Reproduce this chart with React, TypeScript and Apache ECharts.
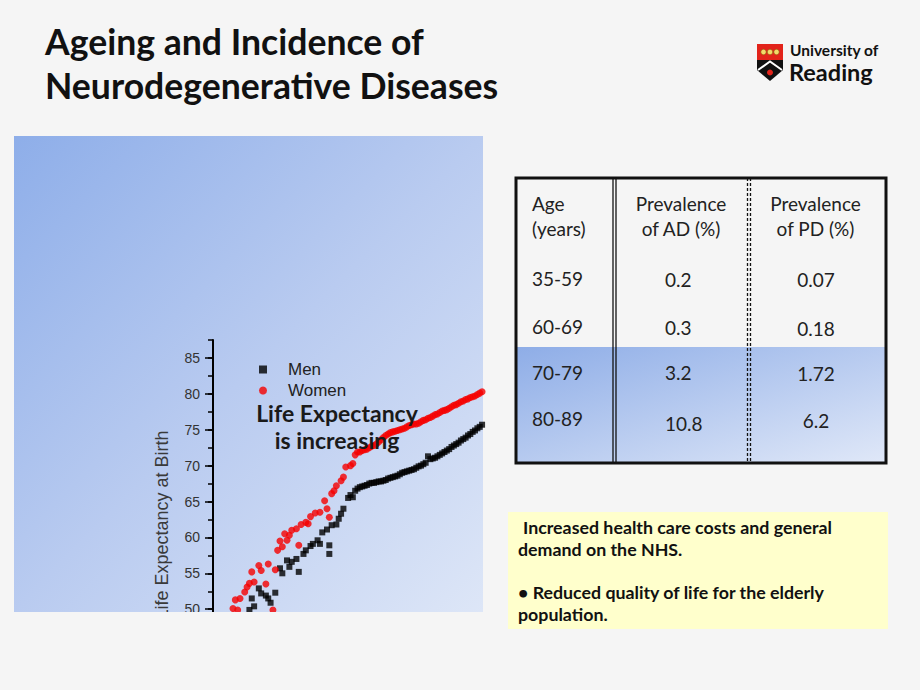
import React, { useEffect, useRef } from "react";
import * as echarts from "echarts";

// ---------- DATA ----------
const titleLines = ["Ageing and Incidence of", "Neurodegenerative Diseases"];
const yLabelValues = [40, 45, 50, 55, 60, 65, 70, 75, 80, 85];

// Life expectancy at birth, [year, years]
const menData: [number, number][] = [
  [1907, 49.9], [1908, 51.5], [1909, 50.4], [1911, 52.9], [1912, 52.2], [1914, 51.9], [1915, 51.5],
  [1916, 50.9], [1918, 52.3], [1920, 55.7], [1921, 55.0], [1923, 56.8], [1924, 55.9], [1925, 56.6],
  [1927, 57.0], [1928, 55.2], [1930, 57.7], [1931, 58.2], [1933, 58.8], [1934, 59.1], [1936, 59.6],
  [1937, 59.1], [1938, 60.7], [1940, 61.1], [1941, 57.7], [1941, 58.9], [1942, 61.7], [1944, 61.8],
  [1945, 62.6], [1946, 63.3], [1947, 64.0], [1949, 65.5], [1950, 65.9], [1951, 65.6], [1952, 66.5],
  [1953, 66.8], [1954, 67.0], [1955, 67.1], [1956, 67.2], [1957, 67.3], [1958, 67.5], [1959, 67.6],
  [1960, 67.6], [1961, 67.7], [1962, 67.8], [1963, 67.8], [1964, 67.9], [1965, 68.0], [1966, 68.2],
  [1967, 68.3], [1968, 68.4], [1969, 68.5], [1970, 68.6], [1971, 68.8], [1972, 69.0], [1973, 69.1],
  [1974, 69.2], [1975, 69.3], [1976, 69.4], [1977, 69.5], [1978, 69.7], [1979, 69.9], [1980, 70.0],
  [1981, 70.2], [1982, 70.4], [1983, 71.3], [1984, 70.9], [1985, 71.0], [1986, 71.1], [1987, 71.3],
  [1988, 71.5], [1989, 71.7], [1990, 71.9], [1991, 72.1], [1992, 72.3], [1993, 72.6], [1994, 72.8],
  [1995, 73.0], [1996, 73.2], [1997, 73.5], [1998, 73.7], [1999, 73.9], [2000, 74.2], [2001, 74.4],
  [2002, 74.7], [2003, 74.9], [2004, 75.2], [2005, 75.4], [2006, 75.7],
];

const womenData: [number, number][] = [
  [1900, 50.1], [1901, 51.3], [1902, 49.9], [1903, 51.5], [1905, 52.4], [1906, 53.1], [1907, 53.6],
  [1908, 55.2], [1909, 53.8], [1911, 56.1], [1912, 55.4], [1914, 53.5], [1915, 56.3], [1917, 49.9],
  [1918, 55.5], [1919, 58.2], [1920, 59.5], [1921, 58.7], [1922, 60.5], [1923, 59.6], [1924, 60.3],
  [1925, 61.0], [1927, 61.2], [1928, 58.9], [1929, 61.8], [1931, 62.1], [1932, 61.9], [1933, 62.9],
  [1935, 63.4], [1937, 63.5], [1939, 65.1], [1940, 64.0], [1941, 62.8], [1942, 66.1], [1943, 66.5],
  [1944, 67.2], [1946, 67.9], [1947, 68.4], [1948, 69.8], [1950, 70.0], [1951, 70.3], [1952, 71.5],
  [1953, 71.9], [1954, 71.9], [1955, 72.1], [1956, 72.2], [1957, 72.3], [1958, 72.5], [1959, 72.7],
  [1960, 72.8], [1961, 73.0], [1962, 73.3], [1963, 73.6], [1964, 73.9], [1965, 74.2], [1966, 74.4],
  [1967, 74.6], [1968, 74.7], [1969, 74.8], [1970, 74.9], [1971, 75.0], [1972, 75.1], [1973, 75.2],
  [1974, 75.4], [1975, 75.6], [1976, 75.7], [1977, 75.8], [1978, 75.8], [1979, 75.9], [1980, 76.1],
  [1981, 76.3], [1982, 76.4], [1983, 76.6], [1984, 76.7], [1985, 76.9], [1986, 77.1], [1987, 77.2],
  [1988, 77.4], [1989, 77.6], [1990, 77.7], [1991, 77.8], [1992, 78.0], [1993, 78.2], [1994, 78.4],
  [1995, 78.5], [1996, 78.7], [1997, 78.9], [1998, 79.0], [1999, 79.2], [2000, 79.3], [2001, 79.5],
  [2002, 79.6], [2003, 79.7], [2004, 79.9], [2005, 80.1], [2006, 80.3],
];

const tableHeaders = [["Age", "(years)"], ["Prevalence", "of AD (%)"], ["Prevalence", "of PD (%)"]];
const ageGroups = ["35-59", "60-69", "70-79", "80-89"];
const prevalenceAD = [0.2, 0.3, 3.2, 10.8];
const prevalencePD = [0.07, 0.18, 1.72, 6.2];

const overlayLines = ["Life Expectancy", "is increasing"];
const noteLines = [
  "Increased health care costs and general",
  "demand on the NHS.",
  "\u2022 Reduced quality of life for the elderly",
  "population.",
];
const logoLines = ["University of", "Reading"];

// ---------- STYLE / LAYOUT ----------
const PAGE_BG = "#f5f5f5";
const chartFont = '"Liberation Sans", Arial, sans-serif';
const slideFont = 'Lato, "Open Sans", sans-serif';

const txt = (
  text: string, x: number, y: number, size: number, weight: string,
  align: string = "left", fill: string = "#111", z: number = 60
) => ({
  type: "text", x, y, z, silent: true,
  style: {
    text, fill, fontSize: size, fontWeight: weight, fontFamily: slideFont,
    lineHeight: Math.round(size * 0.95),
    textAlign: align, textVerticalAlign: "middle",
  },
});

function buildOption() {
  const g: any[] = [];

  // chart background panel
  g.push({
    type: "rect", z: -1, silent: true,
    shape: { x: 14, y: 136, width: 469, height: 476 },
    style: {
      fill: new echarts.graphic.LinearGradient(0, 0, 1, 1, [
        { offset: 0, color: "#8eaee9" },
        { offset: 0.5, color: "#b9cbf0" },
        { offset: 1, color: "#dde6f7" },
      ]),
    },
  });
  // crop of the pasted chart picture (hides the lower part)
  g.push({
    type: "rect", z: 50, silent: true,
    shape: { x: 0, y: 612, width: 505, height: 80 },
    style: { fill: PAGE_BG },
  });

  // title
  g.push(txt(titleLines[0], 45, 41, 35.6, "bold"));
  g.push(txt(titleLines[1], 45, 85, 35.6, "bold"));

  // overlay on chart
  g.push(txt(overlayLines[0], 337, 413, 23, "bold", "center", "#1a1a1a", 60));
  g.push(txt(overlayLines[1], 337, 440, 23, "bold", "center", "#1a1a1a", 60));

  // logo crest
  g.push({ type: "rect", z: 60, shape: { x: 757, y: 44, width: 26, height: 16 }, style: { fill: "#e2231a" } });
  [763.5, 770, 776.5].forEach((cx) =>
    g.push({ type: "circle", z: 61, shape: { cx, cy: 52, r: 2.7 }, style: { fill: "#f4d96a", stroke: "#8a6a10", lineWidth: 0.6 } })
  );
  g.push({
    type: "polygon", z: 60,
    shape: { points: [[757, 60], [783, 60], [783, 70], [770, 81], [757, 70]] },
    style: { fill: "#111" },
  });
  g.push({
    type: "polyline", z: 61,
    shape: { points: [[758, 70], [770, 61.5], [782, 70]] },
    style: { stroke: "#fff", lineWidth: 2, fill: "none" },
  });
  g.push({ type: "circle", z: 62, shape: { cx: 770, cy: 72.5, r: 3 }, style: { fill: "#e2231a" } });
  g.push(txt(logoLines[0], 790, 50, 15.5, "bold", "left", "#111"));
  g.push(txt(logoLines[1], 789, 72, 23.5, "bold", "left", "#111"));

  // table
  const tX = 516, tY = 178, tW = 370, tH = 285;
  const blueTop = 347;
  g.push({
    type: "rect", z: 55,
    shape: { x: tX, y: blueTop, width: tW, height: tY + tH - blueTop },
    style: {
      fill: new echarts.graphic.LinearGradient(0, 0, 1, 1, [
        { offset: 0, color: "#8eade7" },
        { offset: 1, color: "#e0e8f8" },
      ]),
    },
  });
  [613, 616].forEach((x) =>
    g.push({ type: "line", z: 57, shape: { x1: x, y1: tY, x2: x, y2: tY + tH }, style: { stroke: "#111", lineWidth: 1.3 } })
  );
  [747.5, 750.5].forEach((x) =>
    g.push({
      type: "line", z: 57, shape: { x1: x, y1: tY, x2: x, y2: tY + tH },
      style: { stroke: "#111", lineWidth: 1.3, lineDash: [3, 2] },
    })
  );
  g.push({
    type: "rect", z: 58,
    shape: { x: tX, y: tY, width: tW, height: tH },
    style: { fill: "none", stroke: "#111", lineWidth: 3 },
  });
  const headerY = [203, 228];
  const colAnchor = [532, 681, 815.5];
  tableHeaders.forEach((lines, c) =>
    lines.forEach((l, i) =>
      g.push(txt(l, colAnchor[c], headerY[i], 19, "normal", c === 0 ? "left" : "center", "#222", 59))
    )
  );
  const rowAgeY = [278, 326.5, 372, 418.5];
  const rowADY = [279.5, 327.5, 372.5, 423.5];
  const rowPDY = [279.5, 328, 373, 420.5];
  ageGroups.forEach((a, r) => g.push(txt(a, 532, rowAgeY[r], 19, "normal", "left", "#222", 59)));
  prevalenceAD.forEach((v, r) => g.push(txt(String(v), 665, rowADY[r], 19, "normal", "left", "#222", 59)));
  prevalencePD.forEach((v, r) => g.push(txt(String(v), 816, rowPDY[r], 19, "normal", "center", "#222", 59)));

  // yellow note box
  g.push({
    type: "rect", z: 55,
    shape: { x: 508, y: 512, width: 380, height: 117 },
    style: { fill: "#ffffcc" },
  });
  const noteY = [527, 548.5, 592, 613.5];
  const noteX = [523, 518, 518, 518];
  noteLines.forEach((l, i) => g.push(txt(l, noteX[i], noteY[i], 17.8, "bold", "left", "#111", 59)));

  const axisLineStyle = { color: "#000", width: 1.5 };

  return {
    animation: false,
    backgroundColor: PAGE_BG,
    grid: { left: 213, top: 340, width: 270.25, height: 341, containLabel: false },
    xAxis: { type: "value", min: 1891.5, max: 2006.5, show: false },
    yAxis: [
      {
        type: "value", min: 40, max: 87.5, interval: 2.5, position: "left",
        name: "Life Expectancy at Birth", nameLocation: "middle", nameGap: 42, nameRotate: 90,
        nameTextStyle: { fontFamily: chartFont, fontSize: 18, color: "#3a3a3a", padding: [0, 29, 0, 0] },
        axisLine: { show: true, onZero: false, lineStyle: { color: "#000", width: 2 } },
        axisTick: { show: true, length: 5, lineStyle: axisLineStyle },
        axisLabel: {
          margin: 13, fontFamily: chartFont, fontSize: 14, color: "#333",
          formatter: (v: number) => (yLabelValues.includes(v) ? String(v) : ""),
        },
        splitLine: { show: false },
      },
      {
        type: "value", min: 40, max: 87.5, interval: 5, position: "left",
        axisLine: { show: false, onZero: false },
        axisTick: { show: true, length: 8, customValues: yLabelValues, lineStyle: axisLineStyle },
        axisLabel: { show: false },
        splitLine: { show: false },
      },
    ],
    legend: {
      orient: "vertical", left: 259, top: 361, padding: 0,
      itemWidth: 8, itemHeight: 8, itemGap: 4, selectedMode: false,
      data: [
        { name: "Men", icon: "rect" },
        { name: "Women", icon: "circle" },
      ],
      textStyle: { fontFamily: chartFont, fontSize: 17, lineHeight: 17, color: "#222", padding: [0, 0, 0, 16] },
    },
    series: [
      {
        name: "Men", type: "scatter", data: menData, symbol: "rect", symbolSize: 6,
        itemStyle: { color: "#000" },
      },
      {
        name: "Women", type: "scatter", data: womenData, symbol: "circle", symbolSize: 7,
        itemStyle: { color: "#f50000" },
      },
    ],
    graphic: { elements: g },
  };
}

export default function App() {
  const ref = useRef<HTMLDivElement>(null);
  useEffect(() => {
    document.body.style.margin = "0";
    document.body.style.overflow = "hidden";
    const chart = echarts.init(ref.current!, null, { renderer: "svg" });
    chart.setOption(buildOption() as any);
    return () => chart.dispose();
  }, []);
  return <div ref={ref} style={{ width: 920, height: 690, position: "absolute", left: 0, top: 0 }} />;
}
